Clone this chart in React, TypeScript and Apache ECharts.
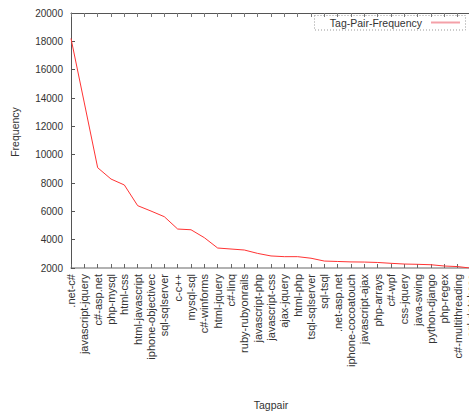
import React, { useEffect, useRef } from "react";
import * as echarts from "echarts";

const categories = [
  ".net-c#", "javascript-jquery", "c#-asp.net", "php-mysql", "html-css",
  "html-javascript", "iphone-objectivec", "sql-sqlserver", "c-c++", "mysql-sql",
  "c#-winforms", "html-jquery", "c#-linq", "ruby-rubyonrails", "javascript-php",
  "javascript-css", "ajax-jquery", "html-php", "tsql-sqlserver", "sql-tsql",
  ".net-asp.net", "iphone-cocoatouch", "javascript-ajax", "php-arrays", "c#-wpf",
  "css-jquery", "java-swing", "python-django", "php-regex", "c#-multithreading",
  "sql-database",
];

const frequency = [
  18200, 13650, 9080, 8280, 7860, 6400, 6020, 5620, 4750, 4700,
  4140, 3410, 3340, 3270, 3030, 2850, 2800, 2800, 2690, 2490,
  2460, 2430, 2420, 2390, 2330, 2280, 2260, 2230, 2140, 2100,
  1990,
];

const seriesName = "Tag-Pair-Frequency";
const FONT = "Liberation Sans";

export default function App() {
  const ref = useRef<HTMLDivElement>(null);
  useEffect(() => {
    if (!ref.current) return;
    const chart = echarts.init(ref.current, undefined, { renderer: "svg" });
    chart.setOption({
      animation: false,
      backgroundColor: "#ffffff",
      grid: { left: 71, right: -2, top: 13, bottom: 145, containLabel: false, outerBoundsMode: "none" },
      legend: {
        right: 9,
        top: 17,
        align: "right",
        icon: "rect",
        itemWidth: 29,
        itemHeight: 2,
        padding: 0,
        textStyle: { fontSize: 10.5, color: "#333", fontFamily: FONT, padding: [0, 4, 0, 0] },
        data: [{ name: seriesName, itemStyle: { color: "#f4a0a8" } }],
      },
      xAxis: [
        {
          type: "category",
          data: categories,
          boundaryGap: false,
          position: "bottom",
          name: "Tagpair",
          nameLocation: "middle",
          nameGap: 131,
          nameTextStyle: { fontSize: 10.5, color: "#333", fontFamily: FONT },
          axisLine: { lineStyle: { color: "#999", width: 1.5 } },
          axisTick: { inside: true, length: 4, alignWithLabel: true, interval: 0, lineStyle: { color: "#666" } },
          axisLabel: { rotate: 90, interval: 0, fontSize: 11, color: "#333", fontFamily: FONT, margin: 6 },
          splitLine: { show: false },
        },
        {
          type: "category",
          data: categories,
          boundaryGap: false,
          position: "top",
          axisLine: { lineStyle: { color: "#555", width: 1 } },
          axisTick: { inside: true, length: 4, interval: 0, lineStyle: { color: "#777" } },
          axisLabel: { show: false },
          splitLine: { show: false },
        },
      ],
      yAxis: {
        type: "value",
        min: 2000,
        max: 20000,
        interval: 2000,
        axisLine: { show: true, lineStyle: { color: "#555", width: 1 } },
        axisTick: { show: true, inside: true, length: 4, lineStyle: { color: "#555" } },
        axisLabel: {
          fontSize: 10,
          color: "#333",
          fontFamily: FONT,
          margin: 8,
          formatter: (v: number) => String(v),
        },
        splitLine: { show: false },
      },
      graphic: [
        {
          type: "text",
          x: 15,
          y: 132,
          rotation: Math.PI / 2,
          style: {
            text: "Frequency",
            fontSize: 10.5,
            fill: "#333",
            fontFamily: FONT,
            align: "center",
            verticalAlign: "middle",
          },
        },
        {
          type: "rect",
          shape: { x: 314.5, y: 15.5, width: 151, height: 14.5 },
          style: { fill: "none", stroke: "#999", lineWidth: 1, lineDash: [1, 2] },
          silent: true,
        },
      ],
      series: [
        {
          name: seriesName,
          type: "line",
          data: frequency,
          xAxisIndex: 0,
          showSymbol: false,
          symbol: "none",
          lineStyle: { color: "#ff3333", width: 1 },
          itemStyle: { color: "#ff3333" },
        },
      ],
    });
    return () => chart.dispose();
  }, []);
  return (
    <div
      ref={ref}
      style={{ position: "fixed", left: 0, top: 0, width: 469, height: 413, overflow: "hidden" }}
    />
  );
}
